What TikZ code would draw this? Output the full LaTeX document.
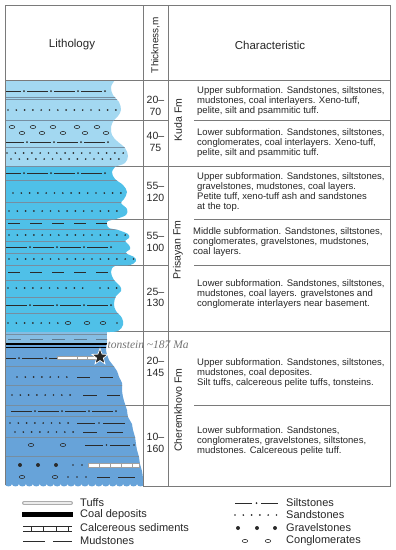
\documentclass[tikz,border=0pt]{standalone}
\usepackage{fontspec}
\setmainfont{Liberation Sans}
\newfontfamily\tonfont{Liberation Serif}
\usepackage{tikz}
\usetikzlibrary{shapes.geometric}
\definecolor{kudablue}{HTML}{A3D8F1}
\definecolor{prisblue}{HTML}{4FC0E8}
\definecolor{bandblue}{HTML}{86BDE3}
\definecolor{cherblue}{HTML}{67A3D9}
\definecolor{linegray}{HTML}{7A7A7A}
\definecolor{layergray}{HTML}{5E7A90}
\definecolor{symbgray}{HTML}{2B2B2B}
\tikzset{
  tabla/.style={
    draw=linegray,
    line width=0.8pt
  },
  capa/.style={
    draw=layergray!85,
    line width=0.5pt
  },
  symb/.style={
    draw=symbgray,
    line width=0.8pt
  },
  barra/.style={
    draw=gray!75,
    fill=white,
    line width=0.5pt
  },
  desc/.style={
    anchor=north west,
    align=left,
    inner sep=0pt,
    text=black!85,
    font=\fontsize{9.5}{9.9}\selectfont
  },
  espesor/.style={
    align=center,
    inner sep=0pt,
    text=black!85,
    font=\fontsize{10.5}{11.5}\selectfont
  },
  fm/.style={
    rotate=90,
    text=black!85,
    font=\fontsize{10.5}{12}\selectfont
  },
  head/.style={
    text=black!85,
    font=\fontsize{11.5}{13}\selectfont
  },
  leyenda/.style={
    anchor=west,
    inner sep=0pt,
    text=black!85,
    font=\fontsize{11}{12}\selectfont
  }
}
% rock symbols: y, start x, count
\newcommand{\sandrow}[3]{\foreach \i in {0,...,#3}{\fill[symbgray] (#2+8.3*\i,#1) circle (0.95);}}
\newcommand{\siltrow}[3]{\foreach \i in {0,...,#3}{\draw[symb] (#2+27*\i,#1) -- ++(21,0); \fill[symbgray] (#2+27*\i+24,#1) circle (1);}}
\newcommand{\mudrow}[3]{\foreach \i in {0,...,#3}{\draw[symb] (#2+22*\i,#1) -- ++(12,0);}}
\newcommand{\conglrow}[2]{\foreach \x in {#2}{\draw[symb, line width=0.55pt] (\x,#1) ellipse (2.7 and 1.6);}}
\newcommand{\gravelrow}[2]{\foreach \x in {#2}{\fill[symbgray] (\x,#1) circle (2);}}
\newcommand{\dotsat}[2]{\foreach \x in {#2}{\fill[symbgray] (\x,#1) circle (0.95);}}

\begin{document}
\begin{tikzpicture}[x=1pt, y=-1pt]
\useasboundingbox (0,0) rectangle (396,550);

% row lines right of the column
\foreach \y in {166,331} \draw[tabla] (100,\y) -- (390,\y);
\foreach \y in {120,219,265,405} {
  \draw[tabla] (100,\y) -- (168,\y);
  \draw[tabla] (194,\y) -- (390,\y);
}

% Kuda Fm
\begin{scope}
\clip (5,80) -- plot[smooth, tension=0.6] coordinates {(115,80) (111,87) (113,95) (119,102) (121,110) (118,116) (114,120) (111,127) (112,135) (117,141) (125,148) (128,156) (125,163) (117,166)} -- (5,166) -- cycle;
\fill[kudablue] (0,78) rectangle (150,168);
\foreach \y in {97,99.5,120,147,166} \draw[capa] (5,\y) -- (150,\y);
\siltrow{91}{0}{3}
\sandrow{110}{8}{13}
\conglrow{127}{12,33,53,77,97}
\conglrow{133}{22,42,63,85,106}
\siltrow{142}{3}{3}
\sandrow{153}{7}{14}
\sandrow{159}{11}{13}
\end{scope}

% Prisayan Fm
\begin{scope}
\clip (5,166) -- plot[smooth, tension=0.6] coordinates {(116,166) (112,172) (115,179) (123,185) (127,192) (124,199) (121,203) (127,209) (126,215) (116,219) (108,221) (107,224) (109,228) (118,230) (128,234) (129,238) (125,241) (129,245) (130,249) (126,253) (134,257) (136,261) (130,265) (115,266) (111,272) (114,280) (120,286) (121,291) (116,296) (114,304) (116,311) (122,318) (123,325) (118,331) (108,332)} -- (5,332) -- cycle;
\fill[prisblue] (0,164) rectangle (150,334);
\foreach \y in {166,180,202,219,229,241,253,265,280,297,313} \draw[capa] (5,\y) -- (150,\y);
\siltrow{173}{0}{3}
\sandrow{193}{13}{13}
\sandrow{211}{9}{13}
\mudrow{223.5}{8}{4}
\sandrow{235}{9}{14}
\siltrow{247}{6}{3}
\sandrow{259}{9}{15}
\mudrow{272}{8}{4}
\sandrow{288}{8}{9}
\sandrow{288}{100}{2}
\siltrow{305}{6}{3}
\sandrow{323}{8}{6}
\conglrow{323}{68,87,103}
\dotsat{323}{117}
\end{scope}

% band and coal
\begin{scope}
\clip (5,332) rectangle (107,343.5);
\fill[bandblue] (5,332) rectangle (107,343.5);
\draw[capa] (5,334) -- (107,334);
\foreach \i in {0,...,4} \draw[layergray, line width=0.8pt] (8+22*\i,339.5) -- ++(13,0);
\end{scope}

% Cheremkhovo Fm
\begin{scope}
\clip (5,343) -- plot[smooth, tension=0.6] coordinates {(107,343) (106,350) (109,360) (112,364) (117,371) (119,377) (122,383) (122,390) (123,397) (125,404) (127,410) (128,417) (132,424) (133,430) (135,437) (136,444) (137,450) (139,457) (140,464) (142,471) (143,478) (144,484)}
  foreach \k in {1,...,20} { .. controls +(0,3.2) and +(0,3.2) .. ++(-6.95,0) } -- cycle;
\fill[cherblue] (0,341) rectangle (150,492);
\foreach \y in {366,385,405,416,437,456} \draw[capa] (5,\y) -- (150,\y);
\foreach \y in {344,347.2} \draw[black, line width=1.4pt] (5,\y) -- (110,\y);
\siltrow{358}{-5}{1}
\draw[symb] (49,358) -- (57,358);
\draw[barra] (57,356.3) rectangle (97,359.7);
\foreach \x in {77,87} \draw[barra] (\x,356.3) -- (\x,359.7);
\sandrow{377}{17}{6}
\draw[symb] (77,377) -- (90,377) (100,377) -- (113,377);
\sandrow{395}{12}{7}
\draw[symb] (83,395) -- (97,395) (107,395) -- (120,395);
\siltrow{411}{11}{3}
\sandrow{423}{10}{7}
\draw[symb] (77,423) -- (95,423) (103,423) -- (125,423);
\dotsat{423}{99}
\sandrow{432}{15}{7}
\draw[symb] (83,432) -- (97,432) (107,432) -- (123,432);
\conglrow{445}{31,63}
\draw[symb] (85,445) -- (103,445) (110,445) -- (130,445);
\dotsat{445}{106.5,134}
\gravelrow{465}{20,38,56}
\dotsat{465}{73,82}
\draw[barra] (88,463.2) rectangle (139,466.8);
\foreach \x in {99,110,121,132} \draw[barra] (\x,463.2) -- (\x,466.8);
\conglrow{477}{22,55}
\dotsat{477}{68,77,86}
\draw[symb] (97,477) -- (110,477) (118,477) -- (135,477);
\end{scope}
\node[star, star points=5, star point ratio=2.4, fill=black!85, draw=white, line width=0.7pt, minimum size=17pt, inner sep=0pt] (estrella) at (100,357) {};

% table frame
\draw[tabla] (5,80) -- (390,80);
\draw[tabla] (143,5) -- (143,486) (168,5) -- (168,486);
\draw[tabla, line width=0.9pt] (143,486) -- (390,486) -- (390,5) -- (5,5) -- (5,485);

% headers
\node[head] (litho) at (72,45) {Lithology};
\node[head, rotate=90, font=\fontsize{10}{12}\selectfont] (thick) at (155.5,45) {Thickness,m};
\node[head] (charac) at (270,45) {Characteristic};

% thickness
\node[espesor] (t1) at (155.5,106) {20--\\70};
\node[espesor] (t2) at (155.5,142) {40--\\75};
\node[espesor] (t3) at (155.5,192) {55--\\120};
\node[espesor] (t4) at (155.5,242) {55--\\100};
\node[espesor] (t5) at (155.5,297.5) {25--\\130};
\node[espesor] (t6) at (155.5,367) {20--\\145};
\node[espesor] (t7) at (155.5,443) {10--\\160};

% formations
\node[fm] (kuda) at (178,120) {Kuda Fm};
\node[fm] (prisayan) at (178,250) {Prisayan Fm};
\node[fm] (cherem) at (178,410) {Cheremkhovo Fm};

% characteristic
\node[desc] (c1) at (197,86.5) {Upper subformation. Sandstones, siltstones,\\mudstones, coal interlayers. Xeno-tuff,\\pelite, silt and psammitic tuff.};
\node[desc] (c2) at (197,128.5) {Lower subformation. Sandstones, siltstones,\\conglomerates, coal interlayers. Xeno-tuff,\\pelite, silt and psammitic tuff.};
\node[desc] (c3) at (197,172.5) {Upper subformation. Sandstones, siltstones,\\gravelstones, mudstones, coal layers.\\Petite tuff, xeno-tuff ash and sandstones\\at the top.};
\node[desc] (c4) at (193,227.5) {Middle subformation. Sandstones, siltstones,\\conglomerates, gravelstones, mudstones,\\coal layers.};
\node[desc] (c5) at (197,279.5) {Lower subformation. Sandstones, siltstones,\\mudstones, coal layers. gravelstones and\\conglomerate interlayers near basement.};
\node[desc] (c6) at (197,358.5) {Upper subformation. Sandstones, siltstones,\\mudstones, coal deposites.\\Silt tuffs, calcereous pelite tuffs, tonsteins.};
\node[desc] (c7) at (197,426.5) {Lower subformation. Sandstones,\\conglomerates, gravelstones, siltstones,\\mudstones. Calcereous pelite tuff.};

\node[anchor=west, inner sep=0.5pt, text=black!55, font=\tonfont\itshape\fontsize{11.5}{13}\selectfont] (tonst) at (107,345) {tonstein \textasciitilde187 Ma};

% legend
\draw[gray!65, line width=4pt, line cap=round] (24,503) -- (71,503);
\draw[white!85!gray, line width=1.6pt, line cap=round] (24,503) -- (71,503);
\node[leyenda] (lg1) at (80,503) {Tuffs};
\draw[black, line width=4.5pt] (22,514.5) -- (73,514.5);
\node[leyenda] (lg2) at (80,515) {Coal deposits};
\draw[symb, line width=0.5pt] (23,526) -- (72,526) (23,531) -- (72,531);
\foreach \x in {31,43,56,68} \draw[symb, line width=0.5pt] (\x,526) -- (\x,531);
\node[leyenda] (lg3) at (80,528) {Calcereous sediments};
\draw[symb] (23,541) -- (45,541) (53,541) -- (72,541);
\node[leyenda] (lg4) at (80,541) {Mudstones};

\draw[symb] (235,503) -- (252,503) (261,503) -- (278,503);
\fill[symbgray] (256.5,503) circle (1);
\node[leyenda] (lg5) at (286,503) {Siltstones};
\sandrow{515}{235}{5}
\node[leyenda] (lg6) at (286,515) {Sandstones};
\gravelrow{528}{238,257,275}
\node[leyenda] (lg7) at (286,528) {Gravelstones};
\conglrow{541}{245,268}
\node[leyenda] (lg8) at (286,541) {Conglomerates};
\end{tikzpicture}
\end{document}
